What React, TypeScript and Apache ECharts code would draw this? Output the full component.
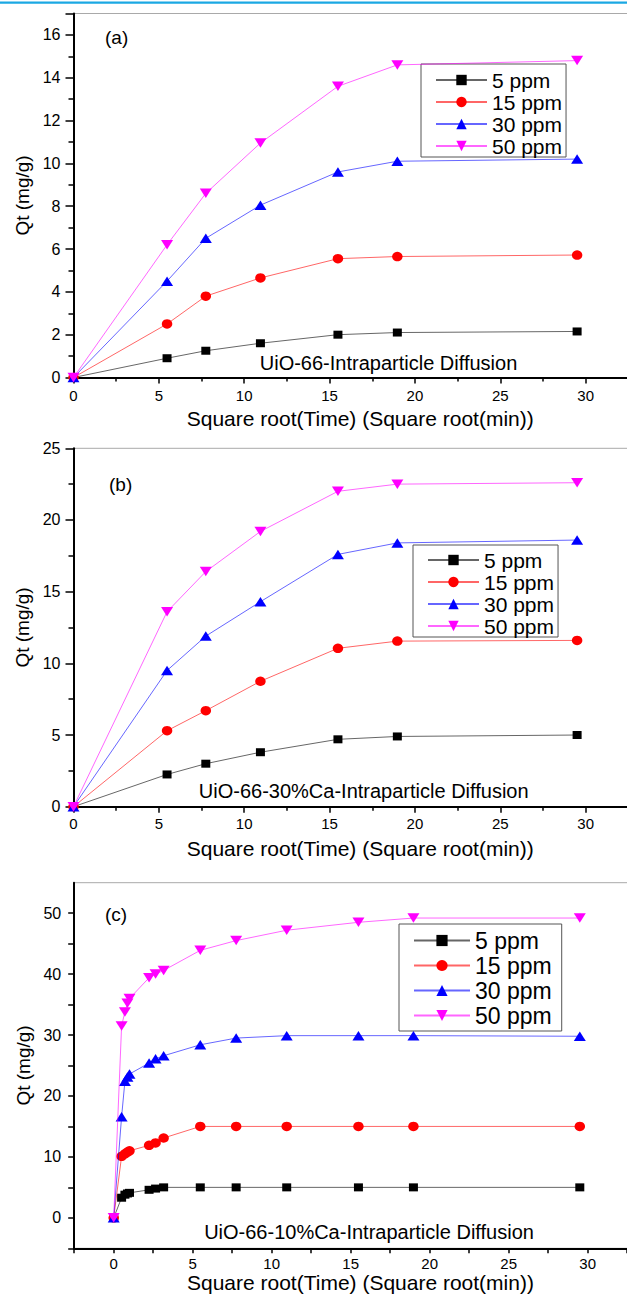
import React, { useEffect, useRef } from "react";
import * as echarts from "echarts";

const SERIES_NAMES = ["5 ppm", "15 ppm", "30 ppm", "50 ppm"];
const COLORS = ["#000000", "#ff0000", "#0000ff", "#ff00ff"];

const X_AB = [0, 5.48, 7.75, 10.95, 15.49, 18.97, 29.5];
const A_5 = [0, 0.9, 1.25, 1.6, 2.0, 2.1, 2.15];
const A_15 = [0, 2.5, 3.8, 4.65, 5.55, 5.65, 5.72];
const A_30 = [0, 4.5, 6.5, 8.05, 9.6, 10.1, 10.2];
const A_50 = [0, 6.2, 8.6, 10.95, 13.6, 14.6, 14.8];

const B_5 = [0, 2.25, 3.0, 3.8, 4.7, 4.9, 5.0];
const B_15 = [0, 5.3, 6.7, 8.75, 11.05, 11.55, 11.6];
const B_30 = [0, 9.5, 11.9, 14.3, 17.6, 18.4, 18.6];
const B_50 = [0, 13.6, 16.4, 19.2, 22.0, 22.5, 22.6];

const X_C = [0, 0.5, 0.71, 0.87, 1, 2.24, 2.65, 3.16, 5.48, 7.75, 10.95, 15.49, 18.97, 29.5];
const C_5 = [0, 3.3, 3.8, 4.0, 4.1, 4.6, 4.8, 5.0, 5.0, 5.0, 5.0, 5.0, 5.0, 5.0];
const C_15 = [0, 10.1, 10.5, 10.8, 11.0, 11.9, 12.3, 13.1, 15.0, 15.0, 15.0, 15.0, 15.0, 15.0];
const C_30 = [0, 16.6, 22.4, 23.1, 23.6, 25.4, 26.1, 26.6, 28.4, 29.5, 29.9, 29.9, 29.9, 29.8];
const C_50 = [0, 31.5, 33.8, 35.2, 36.0, 39.4, 40.0, 40.6, 43.9, 45.5, 47.2, 48.5, 49.2, 49.2];

const X_LABEL_MAX = 30;

const PANEL_TAGS = ["(a)", "(b)", "(c)"];
const PANEL_LABELS = [
  "UiO-66-Intraparticle Diffusion",
  "UiO-66-30%Ca-Intraparticle Diffusion",
  "UiO-66-10%Ca-Intraparticle Diffusion",
];
const X_TITLE = "Square root(Time) (Square root(min))";
const Y_TITLE = "Qt (mg/g)";

const FONT = "'Liberation Sans', Arial, Helvetica, sans-serif";

const SYMBOLS = ["rect", "circle", "triangle", "path://M0,0L10,0L5,8.5Z"];
const SYMBOL_SIZES: any[] = [[9, 8], [10.5, 9.5], [12, 9.5], [12, 9.5]];

function makeSeries(gridIndex: number, xs: number[], ys: number[][]) {
  return ys.map((vals, i) => ({
    type: "line",
    name: SERIES_NAMES[i],
    xAxisIndex: gridIndex,
    yAxisIndex: gridIndex,
    data: xs.map((x, k) => [x, vals[k]]),
    symbol: SYMBOLS[i],
    symbolSize: SYMBOL_SIZES[i],
    showSymbol: true,
    lineStyle: { width: 1, color: COLORS[i], opacity: 0.6 },
    itemStyle: { color: COLORS[i] },
    emphasis: { disabled: true },
    z: 2 + i,
  }));
}

const axisLineStyle = { show: true, onZero: false, lineStyle: { color: "#000", width: 2 } };

function xAxisCfg(gridIndex: number, min: number, max: number, interval: number, withMinor: boolean, margin: number, nameGap: number, padRight: number) {
  return {
    gridIndex,
    type: "value",
    min,
    max,
    interval,
    axisLine: axisLineStyle,
    axisTick: { show: true, inside: false, length: withMinor ? 6 : 5, lineStyle: { color: "#000", width: 1.5 } },
    minorTick: { show: withMinor, splitNumber: 2, length: 4, lineStyle: { color: "#000", width: 1.5 } },
    splitLine: { show: false },
    minorSplitLine: { show: false },
    axisLabel: {
      fontSize: 15,
      fontFamily: FONT,
      color: "#000",
      margin,
      showMaxLabel: false,
      formatter: (v: number) => (Math.abs(v % 5) < 1e-6 && v <= X_LABEL_MAX ? String(v) : ""),
    },
    name: X_TITLE,
    nameLocation: "middle",
    nameGap,
    nameTextStyle: { fontSize: 21, fontFamily: FONT, color: "#000", padding: [0, padRight, 0, 0] },
  };
}

function yAxisCfg(gridIndex: number, min: number, max: number, interval: number, withMinor: boolean, labelStep: number) {
  return {
    gridIndex,
    type: "value",
    min,
    max,
    interval,
    axisLine: axisLineStyle,
    axisTick: { show: true, inside: false, length: withMinor ? 8 : 6, lineStyle: { color: "#000", width: 1.5 } },
    minorTick: { show: withMinor, splitNumber: 2, length: 5, lineStyle: { color: "#000", width: 1.5 } },
    splitLine: { show: false },
    minorSplitLine: { show: false },
    axisLabel: {
      fontSize: 16,
      fontFamily: FONT,
      color: "#000",
      margin: 13,
      showMaxLabel: max % labelStep === 0,
      formatter: (v: number) => (Math.abs(v % labelStep) < 1e-6 ? String(v) : ""),
    },
    name: Y_TITLE,
    nameLocation: "middle",
    nameGap: 40,
    nameRotate: 90,
    nameTextStyle: { fontSize: 19, fontFamily: FONT, color: "#000" },
  };
}

function legendCfg(left: number, top: number, fontSize: number, lineHeight: number, itemWidth: number, itemHeight: number, padding: number[]) {
  return {
    show: true,
    orient: "vertical",
    left,
    top,
    data: SERIES_NAMES,
    itemWidth,
    itemHeight,
    itemGap: 0,
    padding,
    borderColor: "#555",
    borderWidth: 1,
    backgroundColor: "#fff",
    selectedMode: false,
    textStyle: { fontSize, fontFamily: FONT, color: "#000", lineHeight },
  };
}

const gridStyle = { show: true, borderColor: "#a9a9a9", borderWidth: 1, backgroundColor: "transparent" };

function textEl(text: string, x: number, y: number, size: number, align: string) {
  return {
    type: "text",
    x,
    y,
    style: { text, fontSize: size, fontFamily: FONT, fill: "#000", align, verticalAlign: "middle" },
    z: 10,
  };
}

const option: any = {
  animation: false,
  backgroundColor: "#fff",
  grid: [
    { left: 73.5, top: 13.5, width: 597.5, height: 364, ...gridStyle },
    { left: 73.5, top: 448.3, width: 597.5, height: 358.4, ...gridStyle },
    { left: 74.2, top: 882.7, width: 592.5, height: 365.6, ...gridStyle },
  ],
  xAxis: [
    xAxisCfg(0, 0, 35, 5, true, 10, 30, 24),
    xAxisCfg(1, 0, 35, 5, true, 9.5, 31, 24),
    xAxisCfg(2, -2.5, 35, 2.5, false, 8, 23, 20),
  ],
  yAxis: [
    yAxisCfg(0, 0, 17, 2, true, 2),
    yAxisCfg(1, 0, 25, 5, true, 5),
    yAxisCfg(2, -5, 55, 5, false, 10),
  ],
  legend: [
    legendCfg(421, 64, 21, 22, 51, 13, [5, 4, 0, 14]),
    legendCfg(413, 545, 21, 22, 51, 13, [4, 4, 0, 14]),
    legendCfg(399, 924, 23, 25, 56, 14, [4, 10, 3, 14]),
  ],
  series: [
    ...makeSeries(0, X_AB, [A_5, A_15, A_30, A_50]),
    ...makeSeries(1, X_AB, [B_5, B_15, B_30, B_50]),
    ...makeSeries(2, X_C, [C_5, C_15, C_30, C_50]),
  ],
  graphic: [
    { type: "rect", shape: { x: 0, y: 1.5, width: 720, height: 2.2 }, style: { fill: "#1ba8e3" }, z: 10 },
    textEl(PANEL_TAGS[0], 105, 37, 19, "left"),
    textEl(PANEL_TAGS[1], 109, 484, 19, "left"),
    textEl(PANEL_TAGS[2], 105, 914, 19, "left"),
    textEl(PANEL_LABELS[0], 388.5, 363, 20, "center"),
    textEl(PANEL_LABELS[1], 363.7, 791, 20, "center"),
    textEl(PANEL_LABELS[2], 369, 1231.5, 20, "center"),
  ],
};

export default function App() {
  const ref = useRef<HTMLDivElement>(null);
  useEffect(() => {
    if (!ref.current) return;
    const chart = echarts.init(ref.current, null, { renderer: "svg" });
    chart.setOption(option);
    return () => chart.dispose();
  }, []);
  return (
    <div style={{ position: "absolute", left: 0, top: 0, width: 627, height: 1299, overflow: "hidden", background: "#fff" }}>
      <div ref={ref} style={{ width: 720, height: 1299 }} />
    </div>
  );
}
